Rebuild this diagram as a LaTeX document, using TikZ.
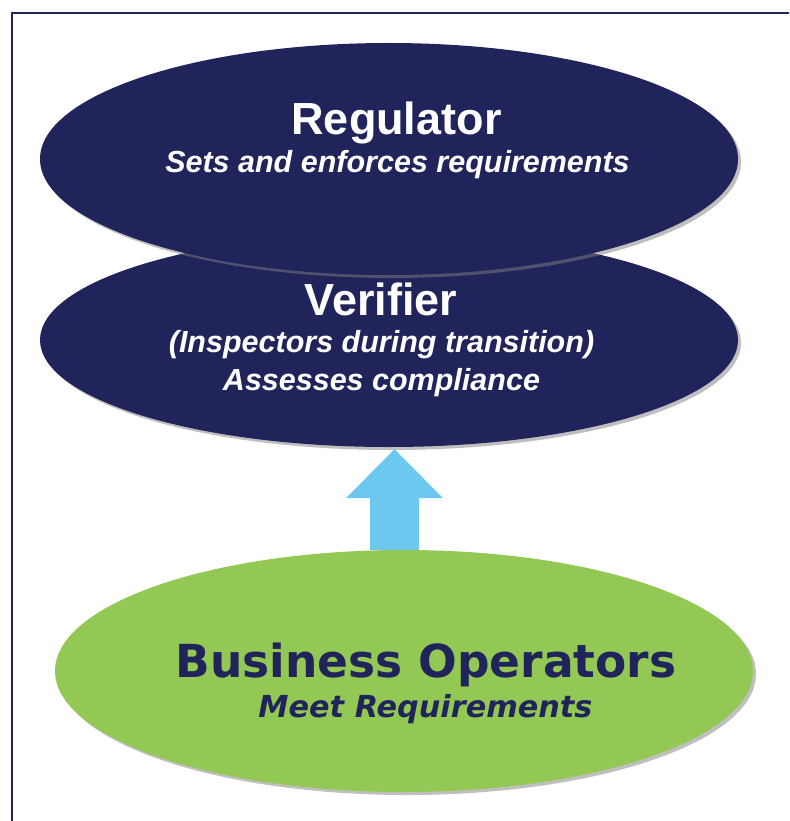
\documentclass[tikz,border=0pt]{standalone}
\usepackage{fontspec}
\setmainfont{Liberation Sans}
\newfontfamily\verd{DejaVu Sans}
\usetikzlibrary{shadows,arrows.meta,shapes.geometric}
\definecolor{navy}{RGB}{32,36,90}
\definecolor{leaf}{RGB}{146,200,83}
\definecolor{sky}{RGB}{109,200,239}
\tikzset{
  oval/.style={ellipse, inner sep=0pt, draw=none, minimum width=698pt,
    drop shadow={shadow xshift=3pt, shadow yshift=-3pt, fill=black!50}},
  ttl/.style={anchor=base, inner sep=0pt, text=white, font=\bfseries\fontsize{45}{50}\selectfont},
  sub/.style={anchor=base, inner sep=0pt, text=white, font=\bfseries\itshape\fontsize{30.5}{34}\selectfont},
  bttl/.style={anchor=base, inner sep=0pt, text=navy, font=\verd\bfseries\fontsize{45.5}{50}\selectfont},
  bsub/.style={anchor=base, inner sep=0pt, text=navy, font=\verd\bfseries\itshape\fontsize{30.3}{34}\selectfont},
  upflow/.style={draw=sky, line width=49pt, -{Triangle[width=97pt,length=49pt,line width=0pt]}},
}
\begin{document}
\begin{tikzpicture}[x=1pt,y=-1pt]
\useasboundingbox (0,0) rectangle (789,821);
\clip (0,0) rectangle (789,821);
\fill[white] (0,0) rectangle (789,821);
\draw[navy, line width=2pt] (11.5,13.5) rectangle (830,860);
\node[oval, fill=navy, minimum height=214pt] (ver) at (389,340) {};
\node[oval, fill=navy, minimum height=232pt] (reg) at (389,159) {};
\node[oval, fill=leaf, minimum height=242pt] (bus) at (404,671) {};
\draw[upflow] ([xshift=-9.5pt]bus.north) -- ([xshift=5.5pt,yshift=-2pt]ver.south);
\node[ttl] (regT) at (396.5,135) {Regulator};
\node[sub] (regS) at (397.5,172) {Sets and enforces requirements};
\node[ttl] (verT) at (381,315) {Verifier};
\node[sub] (verS1) at (381.5,352) {(Inspectors during transition)};
\node[sub] (verS2) at (381.5,390) {Assesses compliance};
\node[bttl] (busT) at (426,677) {Business Operators};
\node[bsub] (busS) at (425.5,717) {Meet Requirements};
\end{tikzpicture}
\end{document}
